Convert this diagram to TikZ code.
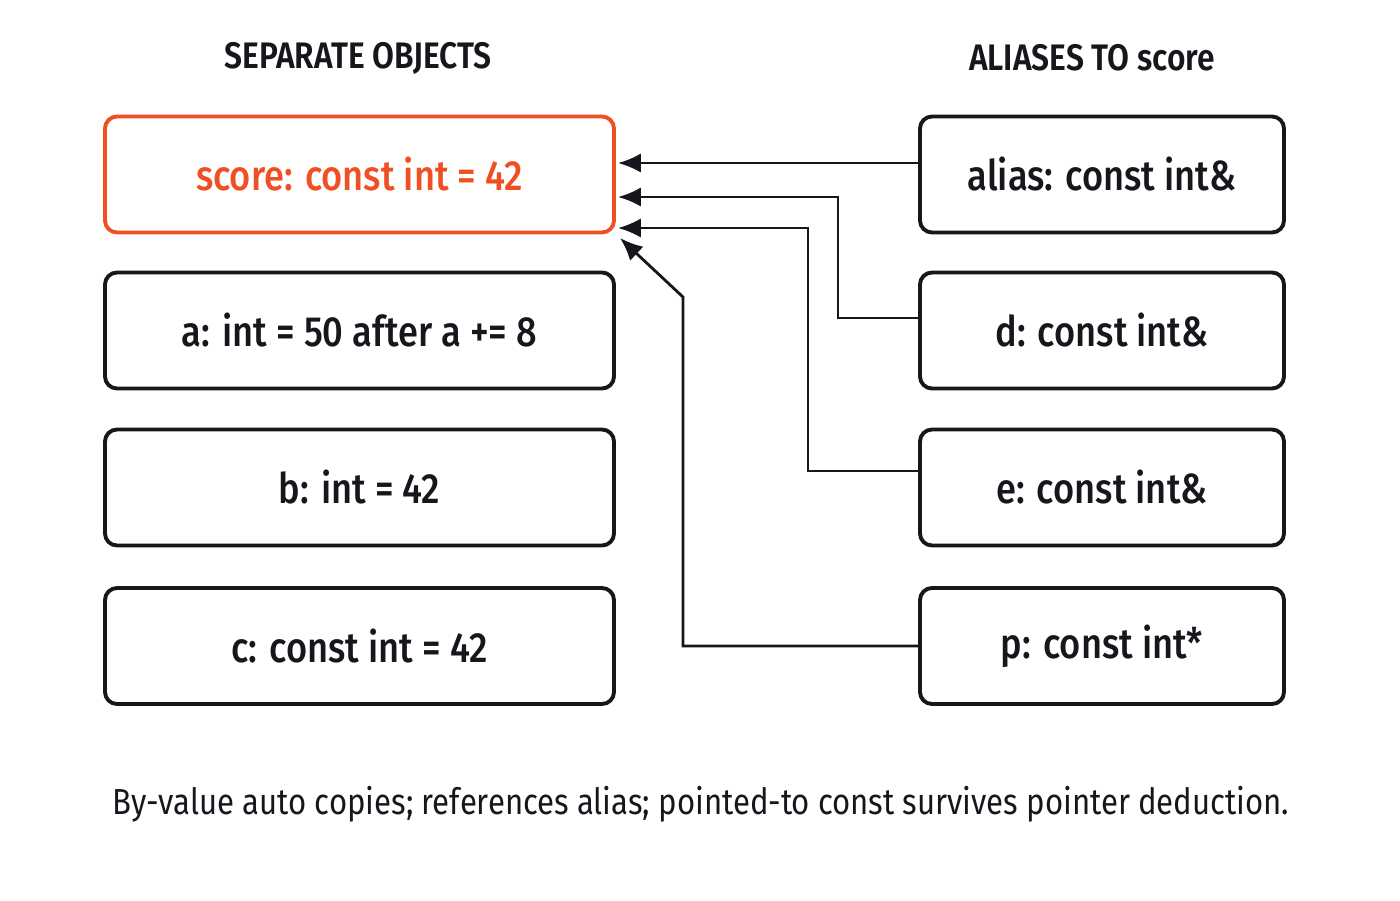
\documentclass[tikz,border=0pt]{standalone}
\usepackage{fontspec}
\setmainfont{Fira Sans}[FakeStretch=0.86,UprightFont=* Medium,BoldFont=* SemiBold]
\newfontfamily\capfont{Fira Sans}[FakeStretch=0.86]
\usetikzlibrary{arrows.meta}
\definecolor{hot}{HTML}{F04E23}
\definecolor{ink}{HTML}{15171C}
\begin{document}
\begin{tikzpicture}[x=0.02cm,y=-0.02cm,
  box/.style={draw=ink,line width=2.2pt,rounded corners=12*0.02cm,minimum width=509*0.02cm,minimum height=116*0.02cm,font=\fontsize{24}{28}\selectfont,text=ink,inner sep=0},
  rbox/.style={box,minimum width=364*0.02cm},
  hdr/.style={font=\bfseries\fontsize{21}{24}\selectfont,text=ink},
  con/.style={draw=ink,line width=1.6pt,-{Latex[length=13pt,width=11pt]}}]
\useasboundingbox (0,0) rectangle (1400,900);
\node[hdr] (h1) at (358,58) {SEPARATE OBJECTS};
\node[hdr] (h2) at (1092,58) {ALIASES TO score};
\node[box,draw=hot,text=hot] (s) at (359.5,174.5) {score: const int = 42};
\node[box] (a) at (359.5,330.5) {a: int = 50 after a += 8};
\node[box] (b) at (359.5,487.5) {b: int = 42};
\node[box] (c) at (359.5,646) {c: const int = 42};
\node[rbox] (al) at (1102,174.5) {alias: const int\&};
\node[rbox] (d) at (1102,330.5) {d: const int\&};
\node[rbox] (e) at (1102,487.5) {e: const int\&};
\node[rbox] (p) at (1102,646) {p: const int*};
\coordinate (t1) at (618,163);
\coordinate (t2) at (618,197);
\coordinate (t3) at (618,228);
\coordinate (t4) at (620,238);
\draw[con] (al.west |- t1) -- (t1);
\draw[con] (d.west |- 0,318) -- (838,318) -- (838,197) -- (t2);
\draw[con] (e.west |- 0,471) -- (808,471) -- (808,228) -- (t3);
\draw[con] (p.west) -- (683,646) -- (683,297) -- (t4);
\node[font=\capfont\fontsize{20.6}{25}\selectfont,text=ink] (cap) at (701,804) {By-value auto copies; references alias; pointed-to const survives pointer deduction.};
\end{tikzpicture}
\end{document}
